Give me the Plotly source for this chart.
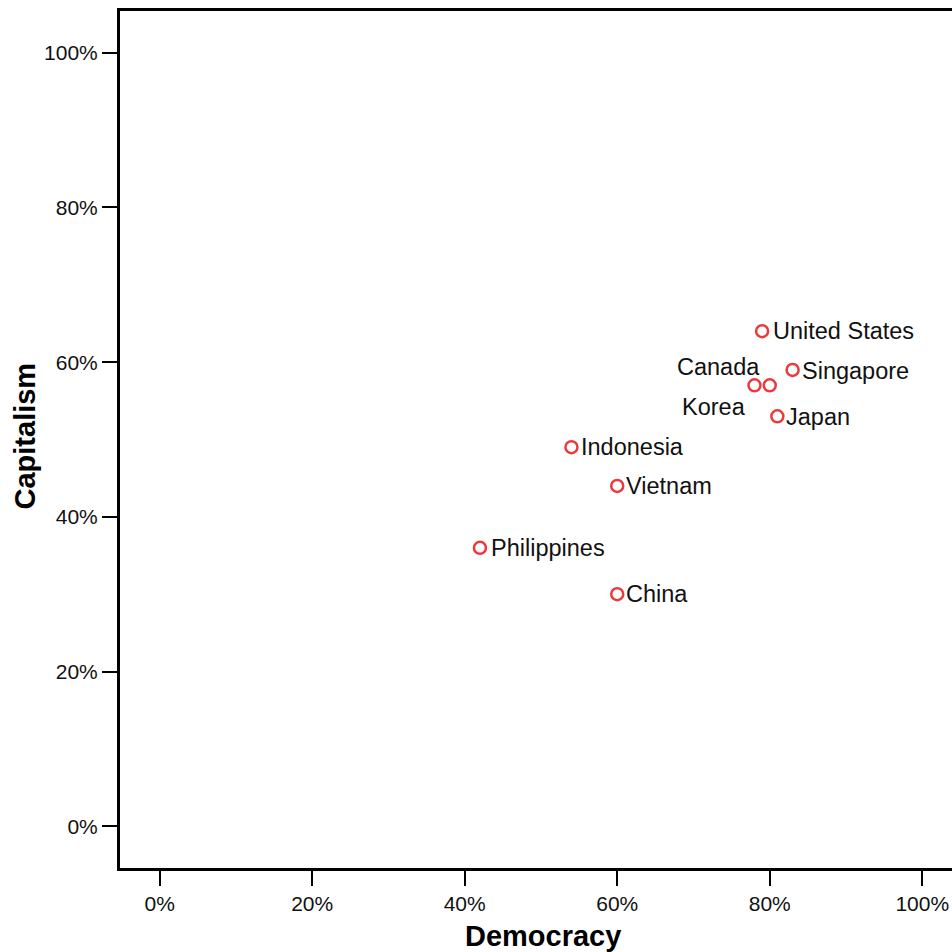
import plotly.graph_objects as go

countries = ["United States", "Singapore", "Canada", "Korea", "Japan",
             "Indonesia", "Vietnam", "Philippines", "China"]
democracy = [79, 83, 80, 78, 81, 54, 60, 42, 60]
capitalism = [64, 59, 57, 57, 53, 49, 44, 36, 30]
tick_vals = [0, 20, 40, 60, 80, 100]
tick_text = ["0%", "20%", "40%", "60%", "80%", "100%"]

# label placement (style only): anchor and pixel offsets from each point
label_anchor = ["left", "left", "right", "right", "left", "left", "left", "left", "left"]
label_dx = [9, 7, -8, -6, 7, 8, 7, 9, 7]
label_dy = [0, -1, 18, -22, -1, 0, 0, 0, 0]

FONT = "Arial, Liberation Sans, sans-serif"

fig = go.Figure(go.Scatter(
    x=democracy, y=capitalism, mode="markers",
    marker=dict(symbol="circle-open", size=12, color="#ea3a3e",
                line=dict(width=2.5, color="#ea3a3e")),
    cliponaxis=False, hoverinfo="skip"))

annotations = []
for name, xv, yv, anc, dx, dy in zip(countries, democracy, capitalism,
                                     label_anchor, label_dx, label_dy):
    annotations.append(dict(text=name, x=xv, y=yv, xref="x", yref="y",
                            xanchor=anc, yanchor="middle", xshift=dx, yshift=dy,
                            showarrow=False,
                            font=dict(family=FONT, size=23.5, color="#111111")))

annotations += [
    dict(text="<b>Democracy</b>", xref="paper", yref="paper", x=0.508, y=0,
         yanchor="middle", yshift=-68, showarrow=False,
         font=dict(family=FONT, size=29, color="black")),
    dict(text="<b>Capitalism</b>", xref="paper", yref="paper", x=0, y=0.5,
         xanchor="center", yanchor="middle", xshift=-96, yshift=3, textangle=-90,
         showarrow=False, font=dict(family=FONT, size=29, color="black")),
]

axis_common = dict(showgrid=False, zeroline=False, showline=True, linecolor="black",
                   linewidth=3, ticks="outside", ticklen=15, tickwidth=2,
                   tickcolor="black", tickvals=tick_vals, ticktext=tick_text,
                   tickfont=dict(family=FONT, size=21, color="#111111"))

fig.update_layout(
    width=952, height=952,
    margin=dict(l=120, r=0, t=11, b=84),
    plot_bgcolor="white", paper_bgcolor="white",
    showlegend=False,
    xaxis=dict(range=[-5.2, 103.9], mirror=True, **axis_common),
    yaxis=dict(range=[-5.4, 105.4], **axis_common),
    annotations=annotations,
)

fig.write_html("out.html", config={"displayModeBar": False},
               post_script="document.body.style.margin='0';")
